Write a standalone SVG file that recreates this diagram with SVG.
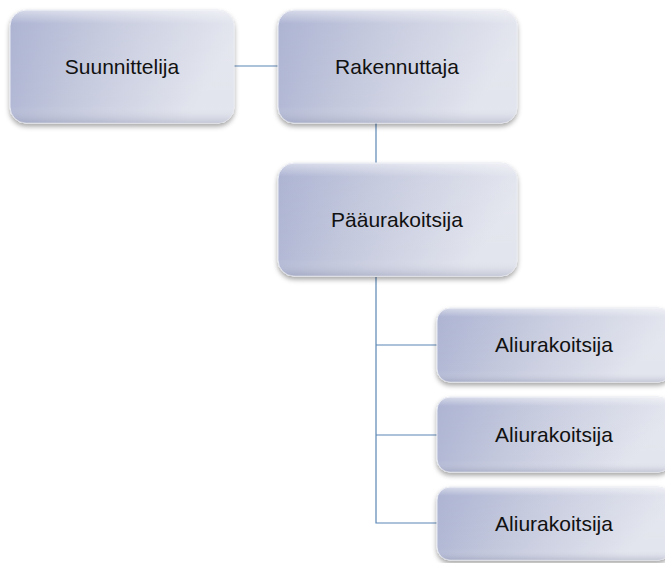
<svg xmlns="http://www.w3.org/2000/svg" width="665" height="563" viewBox="0 0 665 563">
<defs>
<linearGradient id="g" x1="0" y1="0" x2="1" y2="0.3">
<stop offset="0" stop-color="#a2aacd"/>
<stop offset="0.45" stop-color="#c2c7dc"/>
<stop offset="1" stop-color="#e3e5ee"/>
</linearGradient>
<linearGradient id="hl" x1="0" y1="0" x2="0" y2="1">
<stop offset="0" stop-color="#ffffff" stop-opacity="0.55"/>
<stop offset="0.12" stop-color="#ffffff" stop-opacity="0.1"/>
<stop offset="0.85" stop-color="#ffffff" stop-opacity="0"/>
<stop offset="1" stop-color="#6a7090" stop-opacity="0.25"/>
</linearGradient>
<filter id="sh" x="-10%" y="-10%" width="120%" height="130%">
<feDropShadow dx="0" dy="3" stdDeviation="2.5" flood-color="#000" flood-opacity="0.35"/>
</filter>
</defs>
<style>
.box{fill:url(#g);stroke:#e8eaf2;stroke-width:1;filter:url(#sh)}
.hl{fill:url(#hl);stroke:none}
.t{font-family:"Liberation Sans",Arial,sans-serif;font-size:21px;fill:#111;text-anchor:middle}
.c{stroke:#5b86b5;stroke-width:1.2;fill:none}
</style>
<rect width="665" height="563" fill="#fff"/>
<g id="connectors">
<path class="c" d="M234 66H278"/>
<path class="c" d="M376 123V163"/>
<path class="c" d="M376 277V523H437M376 345H437M376 435H437"/>
</g>
<g id="suunnittelija">
<rect class="box" x="10" y="10" width="224" height="113" rx="16"/>
<rect class="hl" x="10" y="10" width="224" height="113" rx="16"/>
<text class="t" x="122" y="74">Suunnittelija</text>
</g>
<g id="rakennuttaja">
<rect class="box" x="278" y="10" width="239" height="113" rx="16"/>
<rect class="hl" x="278" y="10" width="239" height="113" rx="16"/>
<text class="t" x="397" y="74">Rakennuttaja</text>
</g>
<g id="paaurakoitsija">
<rect class="box" x="278" y="163" width="239" height="113" rx="16"/>
<rect class="hl" x="278" y="163" width="239" height="113" rx="16"/>
<text class="t" x="397" y="227">Pääurakoitsija</text>
</g>
<g id="ali1">
<rect class="box" x="437" y="308" width="234" height="74" rx="13"/>
<rect class="hl" x="437" y="308" width="234" height="74" rx="13"/>
<text class="t" x="554" y="352">Aliurakoitsija</text>
</g>
<g id="ali2">
<rect class="box" x="437" y="397" width="234" height="75" rx="13"/>
<rect class="hl" x="437" y="397" width="234" height="75" rx="13"/>
<text class="t" x="554" y="442">Aliurakoitsija</text>
</g>
<g id="ali3">
<rect class="box" x="437" y="487" width="234" height="73" rx="13"/>
<rect class="hl" x="437" y="487" width="234" height="73" rx="13"/>
<text class="t" x="554" y="531">Aliurakoitsija</text>
</g>
</svg>
